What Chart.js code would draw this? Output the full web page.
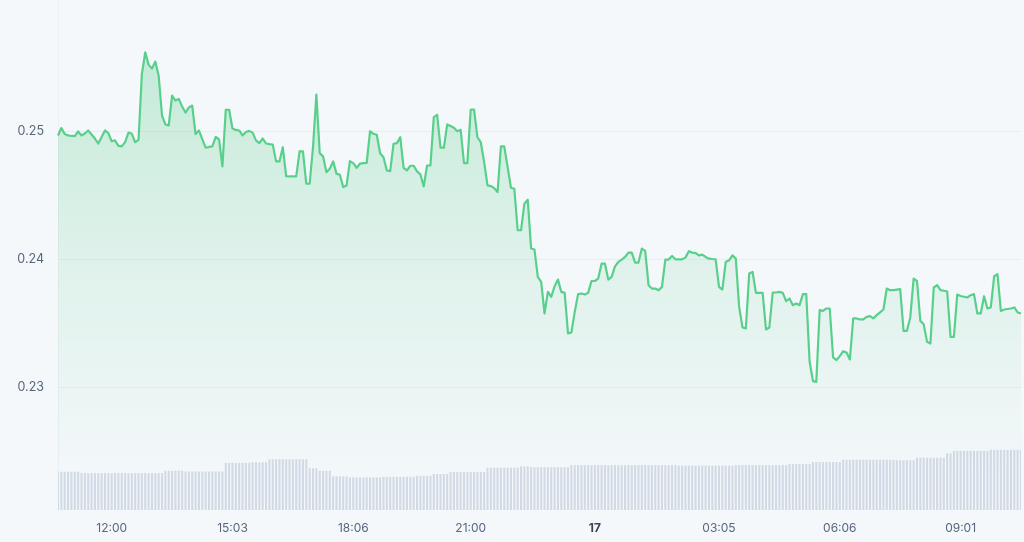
<!DOCTYPE html>
<html>
<head>
<meta charset="utf-8">
<script src="https://cdn.jsdelivr.net/npm/chart.js@4.4.1/dist/chart.umd.min.js"></script>
<style>
  html, body { margin: 0; padding: 0; background: #f5f8fb; }
  #wrap { width: 1024px; height: 542px; }
</style>
</head>
<body>
<div id="wrap"><canvas id="priceChart" width="1024" height="542"></canvas></div>
<script>
// price, 5 minute steps
var prices = [
  0.24969, 0.25027, 0.24980, 0.24969, 0.24965, 0.24963, 0.25000, 0.24969, 0.24984, 0.25008,
  0.24977, 0.24945, 0.24906, 0.24957, 0.25008, 0.24987, 0.24924, 0.24930, 0.24887, 0.24883,
  0.24917, 0.24992, 0.24982, 0.24916, 0.24935, 0.25451, 0.25620, 0.25523, 0.25492, 0.25547,
  0.25438, 0.25125, 0.25055, 0.25047, 0.25281, 0.25242, 0.25255, 0.25195, 0.25148, 0.25188,
  0.25203, 0.24980, 0.25008, 0.24941, 0.24873, 0.24879, 0.24883, 0.24957, 0.24938, 0.24727,
  0.25170, 0.25170, 0.25023, 0.25012, 0.25008, 0.24969, 0.24996, 0.25005, 0.24991, 0.24930,
  0.24909, 0.24945, 0.24906, 0.24901, 0.24898, 0.24766, 0.24766, 0.24877, 0.24651, 0.24648,
  0.24648, 0.24648, 0.24844, 0.24844, 0.24591, 0.24591, 0.24877, 0.25289, 0.24830, 0.24805,
  0.24682, 0.24709, 0.24766, 0.24670, 0.24662, 0.24565, 0.24578, 0.24768, 0.24752, 0.24716,
  0.24748, 0.24752, 0.24755, 0.25002, 0.24982, 0.24974, 0.24830, 0.24799, 0.24695, 0.24690,
  0.24904, 0.24909, 0.24955, 0.24716, 0.24695, 0.24732, 0.24732, 0.24688, 0.24664, 0.24570,
  0.24734, 0.24734, 0.25112, 0.25130, 0.24873, 0.24873, 0.25055, 0.25043, 0.25029, 0.25002,
  0.25013, 0.24752, 0.24752, 0.25172, 0.25172, 0.24955, 0.24916, 0.24760, 0.24578, 0.24573,
  0.24557, 0.24526, 0.24883, 0.24883, 0.24721, 0.24560, 0.24552, 0.24227, 0.24227, 0.24435,
  0.24466, 0.24084, 0.24076, 0.23862, 0.23823, 0.23576, 0.23745, 0.23706, 0.23789, 0.23841,
  0.23745, 0.23737, 0.23420, 0.23427, 0.23588, 0.23727, 0.23732, 0.23724, 0.23737, 0.23830,
  0.23830, 0.23849, 0.23966, 0.23966, 0.23841, 0.23862, 0.23945, 0.23979, 0.23998, 0.24018,
  0.24052, 0.24052, 0.23974, 0.23974, 0.24084, 0.24065, 0.23797, 0.23771, 0.23771, 0.23758,
  0.23784, 0.23998, 0.23998, 0.24026, 0.24000, 0.24000, 0.24000, 0.24013, 0.24063, 0.24052,
  0.24049, 0.24031, 0.24037, 0.24018, 0.24005, 0.24002, 0.24000, 0.23784, 0.23763, 0.23979,
  0.23992, 0.24031, 0.24005, 0.23627, 0.23466, 0.23459, 0.23888, 0.23901, 0.23737, 0.23737,
  0.23737, 0.23451, 0.23466, 0.23740, 0.23740, 0.23745, 0.23737, 0.23672, 0.23693, 0.23641,
  0.23654, 0.23641, 0.23727, 0.23727, 0.23198, 0.23047, 0.23041, 0.23602, 0.23596, 0.23615,
  0.23615, 0.23232, 0.23211, 0.23242, 0.23281, 0.23271, 0.23216, 0.23537, 0.23537, 0.23529,
  0.23529, 0.23549, 0.23555, 0.23537, 0.23563, 0.23584, 0.23607, 0.23771, 0.23758, 0.23758,
  0.23762, 0.23766, 0.23440, 0.23440, 0.23545, 0.23849, 0.23830, 0.23518, 0.23492, 0.23354,
  0.23341, 0.23779, 0.23797, 0.23758, 0.23754, 0.23748, 0.23393, 0.23393, 0.23724, 0.23713,
  0.23707, 0.23701, 0.23719, 0.23727, 0.23576, 0.23576, 0.23711, 0.23615, 0.23623, 0.23867,
  0.23883, 0.23596, 0.23607, 0.23611, 0.23615, 0.23623, 0.23584, 0.23576
];

// 24h volume (M)
var volumes = [
  7.5, 7.5, 7.5, 7.5, 7.5, 7.5, 7.5, 7.25, 7.25, 7.25,
  7.25, 7.25, 7.25, 7.25, 7.25, 7.25, 7.25, 7.25, 7.25, 7.25,
  7.25, 7.25, 7.25, 7.25, 7.25, 7.25, 7.25, 7.25, 7.25, 7.25,
  7.25, 7.25, 7.7, 7.7, 7.7, 7.7, 7.7, 7.7, 7.55, 7.55,
  7.55, 7.55, 7.55, 7.55, 7.55, 7.55, 7.55, 7.55, 7.55, 7.55,
  9.25, 9.25, 9.25, 9.25, 9.25, 9.25, 9.25, 9.25, 9.35, 9.35,
  9.35, 9.35, 9.35, 9.95, 9.95, 9.95, 9.95, 9.95, 9.95, 9.95,
  9.95, 9.95, 9.95, 9.95, 9.95, 8.2, 8.2, 8.2, 7.7, 7.7,
  7.7, 7.7, 6.6, 6.6, 6.6, 6.6, 6.6, 6.4, 6.4, 6.4,
  6.4, 6.4, 6.4, 6.4, 6.4, 6.4, 6.4, 6.5, 6.5, 6.5,
  6.5, 6.5, 6.5, 6.5, 6.5, 6.5, 6.5, 6.7, 6.7, 6.7,
  6.7, 6.7, 7.05, 7.05, 7.05, 7.05, 7.05, 7.45, 7.45, 7.45,
  7.45, 7.45, 7.45, 7.45, 7.45, 7.45, 7.45, 7.45, 8.3, 8.3,
  8.3, 8.3, 8.3, 8.3, 8.3, 8.3, 8.3, 8.3, 8.55, 8.55,
  8.55, 8.4, 8.4, 8.4, 8.4, 8.4, 8.4, 8.4, 8.4, 8.4,
  8.4, 8.4, 8.4, 8.8, 8.8, 8.8, 8.8, 8.8, 8.8, 8.8,
  8.8, 8.8, 8.8, 8.8, 8.8, 8.8, 8.8, 8.8, 8.8, 8.8,
  8.8, 8.8, 8.8, 8.8, 8.8, 8.8, 8.8, 8.8, 8.8, 8.8,
  8.8, 8.8, 8.8, 8.8, 8.8, 8.7, 8.7, 8.7, 8.7, 8.7,
  8.7, 8.7, 8.7, 8.7, 8.7, 8.7, 8.7, 8.7, 8.7, 8.7,
  8.7, 8.7, 8.8, 8.8, 8.8, 8.8, 8.8, 8.8, 8.8, 8.8,
  8.8, 8.8, 8.8, 8.8, 8.8, 8.8, 8.8, 8.8, 9.0, 9.0,
  9.0, 9.0, 9.0, 9.0, 9.0, 9.4, 9.4, 9.4, 9.4, 9.4,
  9.4, 9.4, 9.4, 9.4, 9.85, 9.85, 9.85, 9.85, 9.85, 9.85,
  9.85, 9.85, 9.85, 9.85, 9.85, 9.85, 9.85, 9.85, 9.85, 9.85,
  9.75, 9.75, 9.75, 9.75, 9.75, 9.75, 10.25, 10.25, 10.25, 10.25,
  10.25, 10.25, 10.25, 10.25, 10.25, 11.1, 11.1, 11.6, 11.6, 11.6,
  11.6, 11.6, 11.6, 11.6, 11.6, 11.6, 11.6, 11.6, 11.8, 11.8,
  11.8, 11.8, 11.8, 11.8, 11.8, 11.8, 11.8, 11.8
];

// x axis labels, and the point each one sits on
var tickIdx = [16, 52, 88, 123, 160, 197, 233, 269];
var tickText = ['12:00', '15:03', '18:06', '21:00', '17', '03:05', '06:06', '09:01'];
var yTicks = [0.23, 0.24, 0.25];

var labels = prices.map(function(p, i) { return i; });

var ctx = document.getElementById('priceChart').getContext('2d');
var chart = new Chart(ctx, {
    type: 'line',
    data: {
        labels: labels,
        datasets: [{
                type: 'line',
                label: 'Price',
                data: prices,
                yAxisID: 'y',
                borderColor: '#58d08b',
                borderWidth: 2.2,
                borderJoinStyle: 'round',
                pointRadius: 0,
                tension: 0,
                fill: 'start',
                order: 1,
                backgroundColor: function(c) {
                    var area = c.chart.chartArea;
                    if (!area) return 'rgba(50,195,110,0.15)';
                    var g = c.chart.ctx.createLinearGradient(0, area.top + 50, 0, area.bottom - 40);
                    g.addColorStop(0, 'rgba(50,195,110,0.25)');
                    g.addColorStop(0.5, 'rgba(50,195,110,0.11)');
                    g.addColorStop(1, 'rgba(50,195,110,0.01)');
                    return g;
                }
            },
            {
                type: 'bar',
                label: 'Volume',
                data: volumes,
                yAxisID: 'yv',
                backgroundColor: '#d3dae6',
                barPercentage: 0.62,
                categoryPercentage: 1,
                order: 2
            }
        ]
    },
    options: {
        responsive: false,
        animation: false,
        devicePixelRatio: 1,
        layout: { padding: { top: 0, right: 3, bottom: 0, left: 0 } },
        plugins: { legend: { display: false }, tooltip: { enabled: false } },
        scales: {
            x: {
                offset: false,
                grid: { display: false, drawTicks: false },
                border: { display: false },
                afterBuildTicks: function(scale) {
                    scale.ticks = tickIdx.map(function(v) { return { value: v }; });
                },
                afterFit: function(scale) { scale.height = 32; },
                ticks: {
                    autoSkip: false,
                    maxRotation: 0,
                    padding: 11,
                    color: function(c) { return c.tick && c.tick.value === 160 ? '#3c4556' : '#58667e'; },
                    font: function(c) {
                        var bold = c.tick && c.tick.value === 160;
                        return { family: 'Inter', size: 12, weight: bold ? 'bold' : 'normal' };
                    },
                    callback: function(v) { return tickText[tickIdx.indexOf(v)]; }
                }
            },
            y: {
                position: 'left',
                min: 0.22038,
                max: 0.26029,
                // tick marks kept invisible, they only push the labels left
                grid: { color: '#e9edf2', drawTicks: true, tickLength: 14, tickColor: 'rgba(0,0,0,0)' },
                border: { display: true, color: '#eceff4' },
                afterBuildTicks: function(scale) {
                    scale.ticks = yTicks.map(function(v) { return { value: v }; });
                },
                afterFit: function(scale) {
                    scale.width = 58;
                    scale.paddingTop = 0;
                    scale.paddingBottom = 0;
                },
                ticks: {
                    padding: 0,
                    color: '#58667e',
                    font: { family: 'Inter', size: 12.5 },
                    callback: function(v) { return v.toFixed(2); }
                }
            },
            yv: {
                display: false,
                min: 0,
                max: 100
            }
        }
    }
});
</script>
</body>
</html>
